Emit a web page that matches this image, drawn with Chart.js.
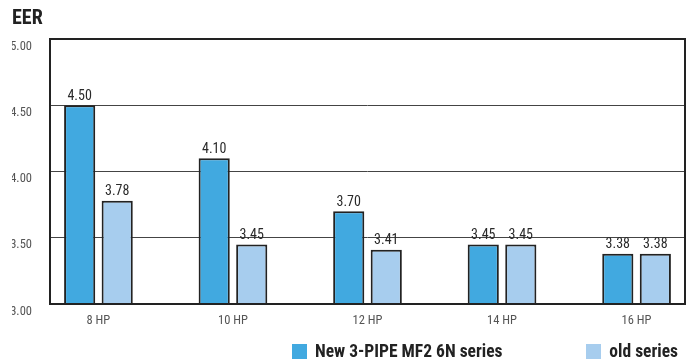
<!DOCTYPE html>
<html>
<head>
<meta charset="utf-8">
<script src="https://cdn.jsdelivr.net/npm/chart.js@4.4.1/dist/chart.umd.min.js"></script>
<style>
  html, body { margin: 0; padding: 0; background: #fff; }
  #wrap { position: relative; width: 689px; height: 360px; }
  #legend {
    position: absolute; left: 292px; top: 342px; width: 386px;
    display: flex; justify-content: space-between; align-items: center;
    font-family: "Roboto Condensed", "Open Sans Condensed", sans-serif;
    font-weight: bold; font-size: 17.5px; color: #222; line-height: 18px;
  }
  .item { display: flex; align-items: center; white-space: nowrap; }
  .box { width: 15px; height: 15px; margin-right: 8px; }
</style>
</head>
<body>
<div id="wrap">
  <canvas id="chart" width="689" height="360"></canvas>
  <div id="legend"></div>
</div>
<script>
/* ── Data ─────────────────────────────────────────────── */

var categories = ['8 HP', '10 HP', '12 HP', '14 HP', '16 HP'];
var newSeries  = [4.50, 4.10, 3.70, 3.45, 3.38];
var oldSeries  = [3.78, 3.45, 3.41, 3.45, 3.38];
var yTicks     = [3.00, 3.50, 4.00, 4.50, 5.00];
var seriesNames = ['New 3-PIPE MF2 6N series', 'old series'];

/* ── Style ────────────────────────────────────────────── */

var narrow    = '"Roboto Condensed", "Open Sans Condensed", sans-serif';
var darkBlue  = '#41a9e0';
var lightBlue = '#a7cdee';
var lineDark  = '#222';

function toPoints(arr) {
  return arr.map(function (v, i) { return { x: i, y: v }; });
}

/* value labels above each bar */
var valueLabels = {
  id: 'valueLabels',
  afterDatasetsDraw: function (chart) {
    var ctx = chart.ctx;
    ctx.save();
    ctx.font = '14px ' + narrow;
    ctx.fillStyle = '#2a2a2a';
    ctx.textAlign = 'center';
    ctx.textBaseline = 'bottom';
    chart.data.datasets.forEach(function (ds, di) {
      chart.getDatasetMeta(di).data.forEach(function (bar, i) {
        ctx.fillText(ds.data[i].y.toFixed(2), bar.x, bar.y - 2);
      });
    });
    ctx.restore();
  }
};

/* box round the plot area */
var frame = {
  id: 'frame',
  afterDatasetsDraw: function (chart) {
    var a = chart.chartArea;
    var ctx = chart.ctx;
    ctx.save();
    ctx.strokeStyle = lineDark;
    ctx.lineWidth = 2;
    ctx.strokeRect(a.left, a.top, a.right - a.left, a.bottom - a.top);
    ctx.restore();
  }
};

var chart = new Chart(document.getElementById('chart'), {
  type: 'bar',
  data: {
    datasets: [
      {
        label: seriesNames[0],
        data: toPoints(newSeries),
        backgroundColor: darkBlue,
        borderColor: lineDark,
        borderWidth: 2,
        borderSkipped: false,
        barPercentage: 0.83,
        categoryPercentage: 0.558
      },
      {
        label: seriesNames[1],
        data: toPoints(oldSeries),
        backgroundColor: lightBlue,
        borderColor: lineDark,
        borderWidth: 2,
        borderSkipped: false,
        barPercentage: 0.83,
        categoryPercentage: 0.558
      }
    ]
  },
  options: {
    responsive: false,
    animation: false,
    layout: { padding: { left: 12, right: 4, top: 0, bottom: 33 } },
    plugins: {
      legend: { display: false },
      tooltip: { enabled: false },
      title: {
        display: true,
        text: 'EER',
        align: 'start',
        color: '#222',
        font: { family: narrow, size: 20, weight: 'bold' },
        padding: { top: 7, bottom: 8 }
      }
    },
    scales: {
      x: {
        type: 'linear',
        min: -0.36,
        max: 4.36,
        offset: false,
        grid: { display: false, drawTicks: false },
        border: { display: false },
        afterBuildTicks: function (axis) {
          axis.ticks = categories.map(function (c, i) { return { value: i }; });
        },
        afterFit: function (axis) { axis.height = 23; },
        ticks: {
          color: '#555',
          padding: 9,
          maxRotation: 0,
          font: { family: narrow, size: 12.5 },
          callback: function (v) { return categories[v]; }
        }
      },
      y: {
        min: 3,
        max: 5,
        afterBuildTicks: function (axis) {
          axis.ticks = yTicks.map(function (v) { return { value: v }; });
        },
        afterFit: function (axis) { axis.width = 38; },
        grid: { color: '#444', lineWidth: 1, drawTicks: false },
        border: { display: false },
        ticks: {
          color: '#555',
          padding: 18,
          font: { family: narrow, size: 12.5 },
          callback: function (v) { return ['', v.toFixed(2)]; }
        }
      }
    }
  },
  plugins: [valueLabels, frame]
});

/* ── HTML legend ──────────────────────────────────────── */

var legend = document.getElementById('legend');
chart.data.datasets.forEach(function (ds) {
  var item = document.createElement('div');
  item.className = 'item';
  var box = document.createElement('span');
  box.className = 'box';
  box.style.background = ds.backgroundColor;
  item.appendChild(box);
  item.appendChild(document.createTextNode(ds.label));
  legend.appendChild(item);
});
</script>
</body>
</html>
